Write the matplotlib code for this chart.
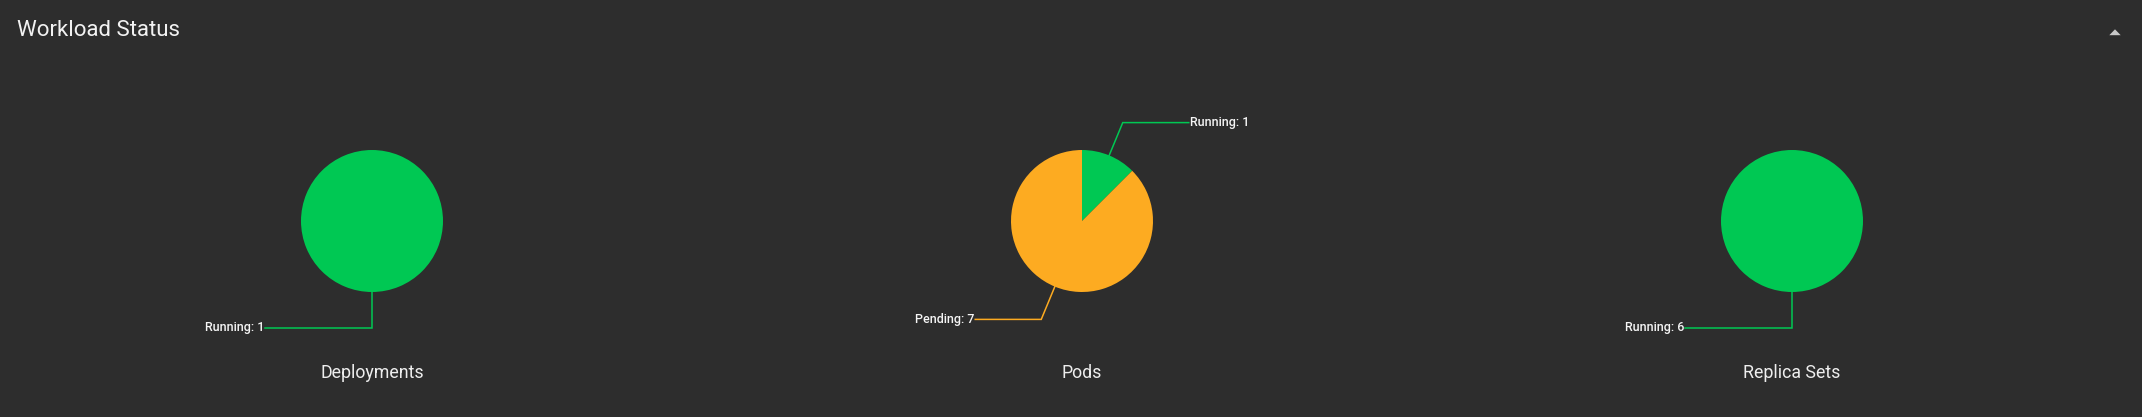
import matplotlib
matplotlib.use("Agg")
import matplotlib.pyplot as plt
from matplotlib.patches import Polygon
import numpy as np

plt.rcParams['font.family'] = ['Roboto', 'DejaVu Sans']

# ---- data ----
title = "Workload Status"
chart_names = ["Deployments", "Pods", "Replica Sets"]
deploy_labels = ["Running"]
deploy_values = [1]
pods_labels = ["Running", "Pending"]
pods_values = [1, 7]
rs_labels = ["Running"]
rs_values = [6]

status_colors = {"Running": "#00C853", "Pending": "#FDAB21"}

BG = "#2D2D2D"
W, H = 2142, 417
DPI = 100
R_PX = 71.0          # pie radius in pixels
CY_TOP = 221.0       # pie center from top (px)
centers_x = [372.0, 1082.0, 1792.0]
# horizontal leader length (px) per chart
h_leader = [107.0, 66.0, 107.0]

fig = plt.figure(figsize=(W / DPI, H / DPI), dpi=DPI)
fig.patch.set_facecolor(BG)

fig.text(17 / W, 1 - 31 / H, title, color="#F2F2F2", fontsize=16.0,
         ha="left", va="center")
# collapse caret
fig.patches.append(Polygon([[2109.3 / W, 1 - 35.2 / H], [2120.7 / W, 1 - 35.2 / H],
                            [2115 / W, 1 - 29.3 / H]], closed=True,
                           transform=fig.transFigure, facecolor="#C8C8C8",
                           edgecolor="none", figure=fig))

datasets = [(deploy_labels, deploy_values), (pods_labels, pods_values), (rs_labels, rs_values)]
half_w = 200.0
for i, (name, (labels, values)) in enumerate(zip(chart_names, datasets)):
    cx = centers_x[i]
    ax = fig.add_axes([(cx - half_w) / W, 0, 2 * half_w / W, 1])
    ax.set_facecolor("none")
    bottom = (H - CY_TOP) / R_PX
    cols = [status_colors[l] for l in labels]
    wedges, _ = ax.pie(values, colors=cols, startangle=90, counterclock=False,
                       radius=1.0, center=(0, 0), frame=True,
                       wedgeprops=dict(linewidth=0))
    ax.set_xlim(-half_w / R_PX, half_w / R_PX)
    ax.set_ylim(-bottom, CY_TOP / R_PX)
    ax.set_aspect("auto")
    ax.axis("off")
    for w, lab, v, col in zip(wedges, labels, values, cols):
        mid = np.deg2rad((w.theta1 + w.theta2) / 2.0)
        p0 = np.array([np.cos(mid), np.sin(mid)])
        p1 = p0 * 1.5
        side = 1 if np.cos(mid) > 1e-6 else -1
        p2 = p1 + np.array([side * h_leader[i] / R_PX, 0])
        ax.plot([p0[0], p1[0], p2[0]], [p0[1], p1[1], p2[1]], color=col, lw=1.1,
                solid_joinstyle="miter")
        ax.text(p2[0] + side * 1.0 / R_PX, p2[1], f"{lab}: {v}", color="#F5F5F5",
                fontsize=9.0, fontweight="medium",
                ha="left" if side > 0 else "right", va="center")
    ax.text(0, -151.7 / R_PX, name, color="#EEEEEE", fontsize=12.8,
            ha="center", va="center")

fig.savefig("out.png", dpi=DPI, facecolor=BG)
